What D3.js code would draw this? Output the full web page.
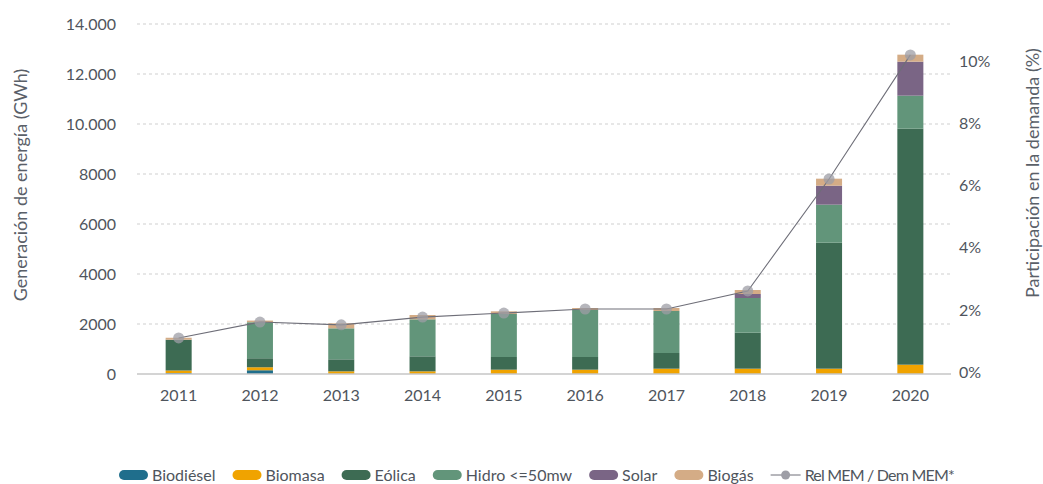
<!DOCTYPE html>
<html>
<head>
<meta charset="utf-8">
<script src="https://cdn.jsdelivr.net/npm/d3@7"></script>
<style>
  body { margin: 0; background: #fff; }
  svg { font-family: Lato, 'Noto Sans', sans-serif; }
</style>
</head>
<body>
<svg id="chart" width="1043" height="484"></svg>
<script>
const years = ['2011', '2012', '2013', '2014', '2015', '2016', '2017', '2018', '2019', '2020']
const biodiesel = [40, 150, 0, 0, 0, 0, 0, 0, 0, 0]
const biomasa = [100, 120, 107, 107, 173, 173, 213, 213, 213, 373]
const eolica = [1230, 360, 480, 600, 507, 507, 627, 1440, 5040, 9440]
const hidro = [0, 1440, 1240, 1480, 1720, 1880, 1680, 1387, 1520, 1320]
const solar = [0, 0, 0, 0, 0, 0, 0, 160, 760, 1360]
const biogas = [80, 67, 200, 173, 107, 80, 120, 160, 280, 280]
const relMem = [1.16, 1.67, 1.58, 1.83, 1.96, 2.09, 2.09, 2.67, 6.27, 10.26]

const leftTicks = [0, 2000, 4000, 6000, 8000, 10000, 12000, 14000]
const leftTickLabels = ['0', '2000', '4000', '6000', '8000', '10.000', '12.000', '14.000']
const rightTicks = [0, 2, 4, 6, 8, 10]

const seriesNames = ['Biodiésel', 'Biomasa', 'Eólica', 'Hidro <=50mw', 'Solar', 'Biogás']
const seriesKeys = ['biodiesel', 'biomasa', 'eolica', 'hidro', 'solar', 'biogas']
const colors = ['#1f6e8c', '#f0a300', '#3d6b53', '#62957a', '#7a6585', '#d4ac86']
const lineName = 'Rel MEM / Dem MEM*'

const rows = years.map((y, i) => ({
  year: y,
  biodiesel: biodiesel[i],
  biomasa: biomasa[i],
  eolica: eolica[i],
  hidro: hidro[i],
  solar: solar[i],
  biogas: biogas[i]
}))

const svg = d3.select('#chart')
const textColor = '#4f555d'

const x = d3.scaleBand()
  .domain(years)
  .range([138, 951])
  .paddingInner(0.68)
  .paddingOuter(0.34)

const y = d3.scaleLinear()
  .domain([0, 14000])
  .range([374, 24])

const yR = d3.scaleLinear()
  .domain([0, 10])
  .range([374, 63])

// grid
svg.append('g')
  .selectAll('line')
  .data(leftTicks.filter(d => d > 0))
  .join('line')
  .attr('x1', 137).attr('x2', 951)
  .attr('y1', d => y(d)).attr('y2', d => y(d))
  .style('stroke', '#cfcfcf')
  .style('stroke-dasharray', '3,3')

// bars
const stacked = d3.stack().keys(seriesKeys)(rows)
svg.append('g')
  .selectAll('g')
  .data(stacked)
  .join('g')
  .attr('fill', (d, i) => colors[i])
  .selectAll('rect')
  .data(d => d)
  .join('rect')
  .attr('x', d => x(d.data.year))
  .attr('width', x.bandwidth())
  .attr('y', d => y(d[1]))
  .attr('height', d => y(d[0]) - y(d[1]))

// zero line
svg.append('line')
  .attr('x1', 137).attr('x2', 951)
  .attr('y1', y(0)).attr('y2', y(0))
  .style('stroke', '#c6c6c6')
  .style('stroke-width', 1.5)

// left axis
const yAxis = d3.axisLeft(y)
  .tickValues(leftTicks)
  .tickSize(0)
  .tickPadding(0)
  .tickFormat((d, i) => leftTickLabels[i])

function customYAxis (g) {
  g.call(yAxis)
  g.select('.domain').remove()
  g.selectAll('.tick text')
    .attr('dy', '0.32em')
    .style('font-size', '16px')
    .style('font-family', 'Lato, sans-serif')
    .style('fill', textColor)
}

svg.append('g')
  .attr('transform', 'translate(116,0)')
  .call(customYAxis)

// right axis
const yRAxis = d3.axisRight(yR)
  .tickValues(rightTicks)
  .tickSize(0)
  .tickPadding(0)
  .tickFormat(d => d + '%')

function customRAxis (g) {
  g.call(yRAxis)
  g.select('.domain').remove()
  g.selectAll('.tick text')
    .attr('dy', '0.2em')
    .style('font-size', '16px')
    .style('font-family', 'Lato, sans-serif')
    .style('fill', textColor)
}

svg.append('g')
  .attr('transform', 'translate(959,0)')
  .call(customRAxis)

// x axis
const xAxis = d3.axisBottom(x).tickSize(0).tickPadding(0)

function customXAxis (g) {
  g.call(xAxis)
  g.select('.domain').remove()
  g.selectAll('.tick text')
    .attr('dy', '0.32em')
    .style('font-size', '16px')
    .style('font-family', 'Lato, sans-serif')
    .style('fill', textColor)
}

svg.append('g')
  .attr('transform', 'translate(0,396)')
  .call(customXAxis)

// axis titles
svg.append('text')
  .attr('transform', 'translate(27,185) rotate(-90)')
  .attr('text-anchor', 'middle')
  .style('font-size', '18px')
  .style('fill', '#5a6068')
  .text('Generación de energía (GWh)')

svg.append('text')
  .attr('transform', 'translate(1039,173) rotate(-90)')
  .attr('text-anchor', 'middle')
  .style('font-size', '18px')
  .style('fill', '#5a6068')
  .text('Participación en la demanda (%)')

// line
const lineGen = d3.line()
  .x((d, i) => x(years[i]) + x.bandwidth() / 2)
  .y(d => yR(d))

svg.append('path')
  .datum(relMem)
  .attr('d', lineGen)
  .attr('fill', 'none')
  .style('stroke', '#6e6e78')
  .style('stroke-width', 1.1)

svg.append('g')
  .selectAll('circle')
  .data(relMem)
  .join('circle')
  .attr('cx', (d, i) => x(years[i]) + x.bandwidth() / 2)
  .attr('cy', d => yR(d))
  .attr('r', 5.5)
  .style('fill', '#9e9ea6')
  .style('opacity', 0.75)

// legend
const legend = svg.append('g').attr('transform', 'translate(119,475)')
let lx = 0
seriesNames.forEach((name, i) => {
  legend.append('rect')
    .attr('x', lx).attr('y', -5)
    .attr('width', 29).attr('height', 10)
    .attr('rx', 5)
    .attr('fill', colors[i])
  const t = legend.append('text')
    .attr('x', lx + 33).attr('y', 0)
    .attr('dy', '0.35em')
    .style('font-size', '16px')
    .style('fill', textColor)
    .text(name)
  lx += 33 + t.node().getComputedTextLength() + 17
})
legend.append('line')
  .attr('x1', lx).attr('x2', lx + 30)
  .attr('y1', 0).attr('y2', 0)
  .style('stroke', '#6e6e78')
legend.append('circle')
  .attr('cx', lx + 15).attr('cy', 0).attr('r', 4.5)
  .style('fill', '#9e9ea6')
legend.append('text')
  .attr('x', lx + 34).attr('y', 0)
  .attr('dy', '0.35em')
  .style('font-size', '16px')
  .style('letter-spacing', '-0.8px')
  .style('fill', textColor)
  .text(lineName)
</script>
</body>
</html>
